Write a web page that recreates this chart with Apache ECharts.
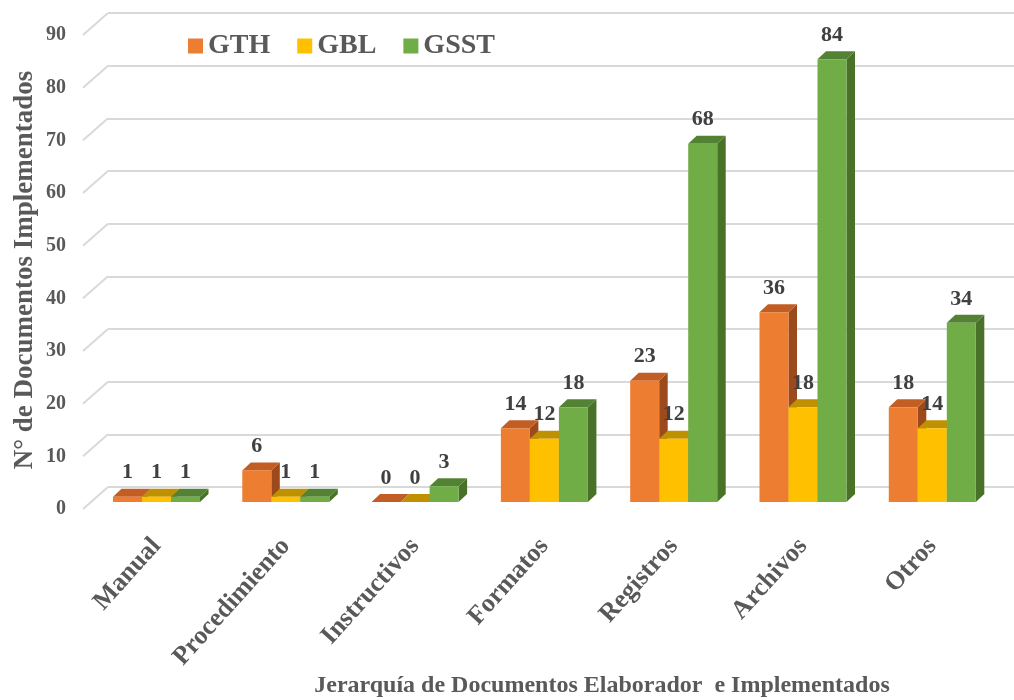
<!DOCTYPE html>
<html>
<head>
<meta charset="utf-8">
<script src="https://cdn.jsdelivr.net/npm/echarts@6/dist/echarts.min.js"></script>
<style>
  html, body { margin: 0; padding: 0; background: #ffffff; }
  #chart { width: 1014px; height: 700px; }
</style>
</head>
<body>
<div id="chart"></div>
<script>
// Document counts per hierarchy level and management area
const categories = ['Manual', 'Procedimiento', 'Instructivos', 'Formatos', 'Registros', 'Archivos', 'Otros'];
const gthValues  = [1, 6, 0, 14, 23, 36, 18];
const gblValues  = [1, 1, 0, 12, 12, 18, 14];
const gsstValues = [1, 1, 3, 18, 68, 84, 34];
const yTicks = [0, 10, 20, 30, 40, 50, 60, 70, 80, 90];

const FONT = '"Liberation Serif", "Times New Roman", serif';
const TEXT_GRAY = '#595959';
const GRID_GRAY = '#D9D9D9';

// Face colours for the pseudo-3D columns: front, top, side
const palettes = [
  { name: 'GTH',  front: '#ED7D31', top: '#C25E24', side: '#9C4A1C' },
  { name: 'GBL',  front: '#FFC000', top: '#BF9000', side: '#9F7800' },
  { name: 'GSST', front: '#70AD47', top: '#548235', side: '#4A7128' }
];
const seriesValues = [gthValues, gblValues, gsstValues];

const DEPTH_X = 8.5;   // oblique depth offset of the columns
const DEPTH_Y = 8;
const BAR_SHARE = 0.673; // part of each category band taken by the three columns

function makeColumnRenderer(idx) {
  const pal = palettes[idx];
  return function (params, api) {
    const ci = api.value(0);
    const v = api.value(1);
    const base = api.coord([ci, 0]);
    const top = api.coord([ci, v]);
    const band = api.size([1, 0])[0];
    const bw = band * BAR_SHARE / 3;
    const x0 = base[0] - 1.5 * bw + idx * bw;
    const x1 = x0 + bw;
    const yB = base[1];
    const yT = top[1];
    return {
      type: 'group',
      children: [
        {
          type: 'polygon',
          shape: { points: [[x1, yT], [x1 + DEPTH_X, yT - DEPTH_Y], [x1 + DEPTH_X, yB - DEPTH_Y], [x1, yB]] },
          style: { fill: pal.side }
        },
        {
          type: 'polygon',
          shape: { points: [[x0, yT], [x1, yT], [x1 + DEPTH_X, yT - DEPTH_Y], [x0 + DEPTH_X, yT - DEPTH_Y]] },
          style: { fill: pal.top }
        },
        {
          type: 'rect',
          shape: { x: x0, y: yT, width: bw, height: yB - yT },
          style: { fill: pal.front }
        },
        {
          type: 'text',
          x: x0 + bw / 2,
          y: yT - 24,
          style: {
            text: String(v),
            fill: '#404040',
            font: 'bold 22px ' + FONT,
            align: 'center',
            verticalAlign: 'middle'
          }
        }
      ]
    };
  };
}

const columnSeries = seriesValues.map(function (vals, idx) {
  return {
    name: palettes[idx].name,
    type: 'custom',
    xAxisIndex: 0,
    yAxisIndex: 0,
    itemStyle: { color: palettes[idx].front },
    renderItem: makeColumnRenderer(idx),
    data: vals.map(function (v, i) { return [i, v]; }),
    z: 3
  };
});

// Short oblique strokes joining each back-wall gridline to the side wall
const wallStubSeries = {
  type: 'custom',
  xAxisIndex: 1,
  yAxisIndex: 1,
  silent: true,
  clip: false,
  renderItem: function (params, api) {
    const p = api.coord([0, api.value(1)]);
    return {
      type: 'line',
      shape: { x1: p[0], y1: p[1], x2: p[0] - 25, y2: p[1] + 22 },
      style: { stroke: GRID_GRAY, lineWidth: 2 }
    };
  },
  data: yTicks.map(function (t) { return [0, t]; }),
  z: 1
};

const chart = echarts.init(document.getElementById('chart'), null, { renderer: 'canvas' });

chart.setOption({
  backgroundColor: '#ffffff',
  animation: false,
  legend: {
    data: palettes.map(function (p) { return p.name; }),
    left: 183,
    top: 27,
    icon: 'rect',
    itemWidth: 15,
    itemHeight: 15,
    itemGap: 27,
    textStyle: { fontFamily: FONT, fontWeight: 'bold', fontSize: 28, color: TEXT_GRAY }
  },
  grid: [
    // column plane
    { left: 91.85, width: 905.1, top: 27.7, height: 474.3 },
    // back wall
    { left: 108, right: 0, top: 13, height: 474 },
    // front edge carrying the value labels
    { left: 74, width: 1, top: 35, height: 474 }
  ],
  xAxis: [
    {
      gridIndex: 0,
      type: 'category',
      data: categories,
      boundaryGap: true,
      axisLine: { show: false },
      axisTick: { show: false },
      axisLabel: {
        rotate: 48,
        margin: 40,
        interval: 0,
        fontFamily: FONT,
        fontWeight: 'bold',
        fontSize: 26,
        color: TEXT_GRAY
      }
    },
    { gridIndex: 1, type: 'value', min: 0, max: 1, show: false },
    { gridIndex: 2, type: 'value', min: 0, max: 1, show: false }
  ],
  yAxis: [
    { gridIndex: 0, type: 'value', min: 0, max: 90, interval: 10, show: false },
    {
      gridIndex: 1,
      type: 'value',
      min: 0,
      max: 90,
      interval: 10,
      axisLine: { show: false },
      axisTick: { show: false },
      axisLabel: { show: false },
      splitLine: { show: true, lineStyle: { color: GRID_GRAY, width: 2 } }
    },
    {
      gridIndex: 2,
      type: 'value',
      min: 0,
      max: 90,
      interval: 10,
      axisLine: { show: false },
      axisTick: { show: false },
      splitLine: { show: false },
      axisLabel: {
        margin: 8,
        fontFamily: FONT,
        fontWeight: 'bold',
        fontSize: 20,
        color: TEXT_GRAY
      }
    }
  ],
  graphic: [
    {
      type: 'text',
      x: 602,
      y: 686,
      style: {
        text: 'Jerarquía de Documentos Elaborador  e Implementados',
        font: 'bold 24px ' + FONT,
        fill: TEXT_GRAY,
        align: 'center',
        verticalAlign: 'middle'
      }
    },
    {
      type: 'text',
      x: 25,
      y: 270,
      rotation: Math.PI / 2,
      style: {
        text: 'N° de Documentos Implementados',
        font: 'bold 27px ' + FONT,
        fill: TEXT_GRAY,
        align: 'center',
        verticalAlign: 'middle'
      }
    }
  ],
  series: [wallStubSeries].concat(columnSeries)
});
</script>
</body>
</html>
